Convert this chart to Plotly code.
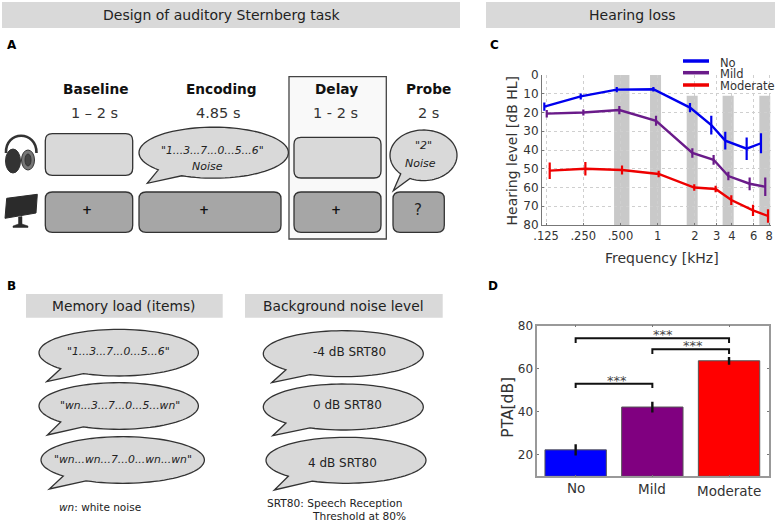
import numpy as np
import plotly.graph_objects as go

W, H = 777, 522

# --- Panel C data (audiogram, x in kHz as plotted, slightly dodged per group) ---
GROUPS = ["No", "Mild", "Moderate"]
GROUP_COLORS = ["#0000ee", "#6a1b8a", "#ee0000"]

no_khz = [0.121, 0.2385, 0.467, 0.924, 1.829, 2.72, 3.53, 5.26, 6.87]
no_db = [16.9, 11.4, 7.8, 7.6, 17.4, 26.7, 35, 39.3, 36.4]
no_err = [2.2, 1.6, 1.4, 1.2, 2.5, 5, 4.7, 6, 5.3]

mild_khz = [0.1266, 0.2505, 0.49, 0.971, 1.911, 2.84, 3.74, 5.56, 7.44]
mild_db = [20.6, 20, 18.7, 24.4, 41.6, 45.2, 53.9, 58, 59.6]
mild_err = [2, 1.6, 2.2, 2.7, 2.5, 2.6, 2.3, 3.4, 5]

mod_khz = [0.1338, 0.2601, 0.515, 1.02, 1.98, 2.95, 3.95, 5.92, 7.83]
mod_db = [51, 50, 50.7, 52.8, 60, 60.8, 66.7, 72.2, 75.2]
mod_err = [4.4, 3.6, 2.4, 1.7, 1.7, 1.7, 2.6, 3, 3.6]

freq_ticks = [0.125, 0.25, 0.5, 1, 2, 3, 4, 6, 8]
freq_labels = [".125", ".250", ".500", "1", "2", "3", "4", "6", "8"]
db_ticks = [0, 10, 20, 30, 40, 50, 60, 70, 80]

band_lo = [0.444, 0.868, 1.72, 3.36, 6.66]
band_hi = [0.591, 1.066, 2.11, 4.13, 8.2]
band_top = [0, 0, 11, 11, 11]

# --- Panel D data ---
pta = [22.3, 42.2, 63.7]
pta_err = [2.6, 2.5, 1.8]
BAR_COLORS = ["#0000ff", "#800080", "#ff0000"]
bracket_from = [0, 1, 0]
bracket_to = [2, 2, 1]
bracket_level = [74.2, 69, 53]
bracket_drop = [72, 66.9, 51]
star_x = [1.14, 1.534, 0.54]

# --- Panels A/B text ---
phases = ["Baseline", "Encoding", "Delay", "Probe"]
durations = ["1 \u2013 2 s", "4.85 s", "1 - 2 s", "2 s"]
load_items = ['"1...3...7...0...5...6"', '"wn...3...7...0...5...wn"', '"wn...wn...7...0...wn...wn"']
noise_items = ["-4 dB SRT80", "0 dB SRT80", "4 dB SRT80"]

FONT = "DejaVu Sans"
TXT = "#222222"


def fx(x):
    return x / W


def fy(y):
    return 1 - y / H


def paper_path(points, close=True):
    s = "M " + " L ".join(f"{fx(x):.5f},{fy(y):.5f}" for x, y in points)
    return s + (" Z" if close else "")


def bubble(cx, cy, rx, ry, base_l, base_r, tip):
    # ellipse outline with a tail on its lower-left side
    t_l = np.pi - np.arcsin(np.sqrt(max(0, 1 - ((base_l - cx) / rx) ** 2)))
    t_r = np.pi - np.arcsin(np.sqrt(max(0, 1 - ((base_r - cx) / rx) ** 2)))
    ts = np.linspace(t_l, t_r + 2 * np.pi, 90)
    pts = [(cx + rx * np.cos(t), cy + ry * np.sin(t)) for t in ts]
    pts.append(tip)
    return paper_path(pts)


def rrect(x0, y0, x1, y1, r=7):
    return (f"M {fx(x0 + r)},{fy(y0)} L {fx(x1 - r)},{fy(y0)} Q {fx(x1)},{fy(y0)} {fx(x1)},{fy(y0 + r)} "
            f"L {fx(x1)},{fy(y1 - r)} Q {fx(x1)},{fy(y1)} {fx(x1 - r)},{fy(y1)} "
            f"L {fx(x0 + r)},{fy(y1)} Q {fx(x0)},{fy(y1)} {fx(x0)},{fy(y1 - r)} "
            f"L {fx(x0)},{fy(y0 + r)} Q {fx(x0)},{fy(y0)} {fx(x0 + r)},{fy(y0)} Z")


shapes = []
annots = []


def add_path(path, fill="rgba(0,0,0,0)", line="#333333", width=1.3):
    shapes.append(dict(type="path", path=path, xref="paper", yref="paper", fillcolor=fill,
                       line=dict(color=line, width=width), layer="above"))


def add_rect(x0, y0, x1, y1, fill):
    shapes.append(dict(type="rect", xref="paper", yref="paper", x0=fx(x0), x1=fx(x1), y0=fy(y0), y1=fy(y1),
                       fillcolor=fill, line=dict(width=0), layer="below"))


def add_text(x, y, text, size=12, color=TXT, anchor="center", angle=0):
    annots.append(dict(x=fx(x), y=fy(y), xref="paper", yref="paper", text=text, showarrow=False,
                       xanchor=anchor, yanchor="middle", textangle=angle, align="left",
                       font=dict(family=FONT, size=size, color=color)))


LIGHT = "#d9d9d9"
DARK = "#a6a6a6"

# --- Section headers ---
add_rect(2, 2, 460, 28, LIGHT)
add_rect(486, 2, 775, 28, LIGHT)
add_text(222, 15, "Design of auditory Sternberg task", 14)
add_text(632, 15, "Hearing loss", 14)
add_text(12, 45, "<b>A</b>", 12, "#000000")
add_text(11, 286, "<b>B</b>", 12, "#000000")
add_text(494, 45, "<b>C</b>", 12, "#000000")
add_text(493, 286, "<b>D</b>", 12, "#000000")

# --- Panel A ---
add_path(paper_path([(289, 76.7), (386.3, 76.7), (386.3, 239), (289, 239)]), "#f9f9f9", "#444444", 1.3)
for x, phase in zip([96.3, 221, 336.7, 428.5], phases):
    add_text(x, 89, f"<b>{phase}</b>", 13.7, "#111111")
for x, dur in zip([94, 218.5, 335.5, 428.5], durations):
    add_text(x, 113.3, dur, 14.5, "#333333")

add_path(rrect(45.3, 133.7, 132.7, 175.3), LIGHT)
add_path(rrect(294, 137.3, 381, 178), LIGHT)
add_path(rrect(45.3, 192, 132.7, 232.3), DARK)
add_path(rrect(139, 192, 281, 232.3), DARK)
add_path(rrect(294, 192, 381, 232.3), DARK)
add_path(rrect(393, 192, 444.3, 232.3), DARK)
for x in [87.3, 204, 335.7]:
    add_text(x, 210.5, "<b>+</b>", 12, "#111111")
add_text(417.7, 210, "?", 15, "#222222")

add_path(bubble(213.7, 152.7, 74.7, 25.5, 158.3, 181.7, (147.3, 183.3)), LIGHT)
add_text(212.5, 150, '<i>"1...3...7...0...5...6"</i>', 10.8)
add_text(207.5, 166, "<i>Noise</i>", 11)
add_path(bubble(423.5, 155.3, 33.5, 25.3, 400.7, 410, (393.3, 190.7)), LIGHT)
add_text(423, 146, '<i>"2"</i>', 11)
add_text(420, 163.3, "<i>Noise</i>", 11)

# headphones and monitor icons
shapes.append(dict(type="path", xref="paper", yref="paper", layer="above", line=dict(color="#333333", width=2.6),
                   path=(f"M {fx(6)},{fy(153)} C {fx(5)},{fy(130)} {fx(37)},{fy(130)} {fx(36.5)},{fy(153)}")))
for cx, cy, rx, ry, fill in [(13, 161, 7.5, 12, "#333333"), (28, 160, 6.5, 10, "#777777"), (28, 160, 3, 6, "#444444")]:
    shapes.append(dict(type="circle", xref="paper", yref="paper", x0=fx(cx - rx), x1=fx(cx + rx), y0=fy(cy - ry),
                       y1=fy(cy + ry), fillcolor=fill, line=dict(color="#333333", width=1), layer="above"))
add_path(paper_path([(6.7, 198.3), (37.3, 194.3), (36, 213), (5, 218.3)]), "#2b2b2b", "#2b2b2b", 1)
add_path(paper_path([(18.5, 217), (22, 216.5), (22, 224), (28, 226), (28, 227.5), (13, 227.5), (13, 226), (18.5, 224)]),
         "#2b2b2b", "#2b2b2b", 0.5)

# --- Panel B ---
add_rect(26, 294, 222.7, 317.7, LIGHT)
add_rect(245, 294, 442.7, 317.7, LIGHT)
add_text(124, 306, "Memory load (items)", 13.8)
add_text(343, 306, "Background noise level", 13.8)

load_geom = [(118.7, 352.7, 79.7, 23.3, 60.7, 83.3, (46.7, 381.7)),
             (118.7, 406, 79.7, 23.3, 60.7, 83.3, (47.3, 435)),
             (122.7, 460, 81.7, 23.3, 63.3, 86, (49.3, 489))]
load_text_at = [(119, 351.5), (119.7, 405), (123, 459)]
for g, (tx, ty), item in zip(load_geom, load_text_at, load_items):
    add_path(bubble(*g), LIGHT)
    add_text(tx, ty, f"<i>{item}</i>", 10.8)
add_text(56.5, 507, "<i>wn</i>: white noise", 10.5, "#222222", anchor="left")

noise_geom = [(343.3, 353.7, 80, 23, 286, 310, (271.7, 382.7)),
              (343.3, 407, 80, 23, 286, 310, (272.7, 435.7)),
              (346, 460.3, 80, 23, 288.3, 312.3, (274.3, 490))]
noise_text_at = [(349.7, 351.7), (347, 405), (342.5, 462.7)]
for g, (tx, ty), item in zip(noise_geom, noise_text_at, noise_items):
    add_path(bubble(*g), LIGHT)
    add_text(tx, ty, item, 12)
add_text(265, 503.3, "SRT80: Speech Reception", 10.6, "#222222", anchor="left")
add_text(310, 515.5, "Threshold at 80%", 10.6, "#222222", anchor="left")

# --- Panel C legend and axis titles ---
for name, color, y in zip(GROUPS, GROUP_COLORS, [61, 72.7, 85]):
    shapes.append(dict(type="line", xref="paper", yref="paper", x0=fx(683), x1=fx(709), y0=fy(y), y1=fy(y),
                       line=dict(color=color, width=3.5), layer="above"))
    add_text(717.5, y + 1.5, name, 11.5, "#333333", anchor="left")
add_text(511, 150.5, "Hearing level [dB HL]", 14, "#333333", angle=-90)
add_text(662, 257.7, "Frequency [kHz]", 14, "#333333")
add_text(508, 406.7, "PTA[dB]", 15.5, "#333333", angle=-90)

# gray bands behind the audiogram
for lo, hi, top in zip(band_lo, band_hi, band_top):
    shapes.append(dict(type="rect", xref="x", yref="y", x0=lo, x1=hi, y0=top, y1=80,
                       fillcolor="#c9c9c9", line=dict(width=0), layer="below"))

fig = go.Figure()

for name, color, xs, ys, errs in zip(GROUPS, GROUP_COLORS, [no_khz, mild_khz, mod_khz], [no_db, mild_db, mod_db],
                                     [no_err, mild_err, mod_err]):
    fig.add_trace(go.Scatter(x=xs, y=ys, name=name, mode="lines", line=dict(color=color, width=2.4),
                             error_y=dict(type="data", array=errs, width=0, thickness=2.2, color=color),
                             showlegend=False, xaxis="x", yaxis="y"))

# --- Panel D traces ---
cat_pos = [0, 1, 2]
fig.add_trace(go.Bar(x=cat_pos, y=[v - 10 for v in pta], base=10, width=0.8, marker=dict(color=BAR_COLORS, line=dict(color="#555555", width=1)),
                     showlegend=False, xaxis="x2", yaxis="y2"))
fig.add_trace(go.Scatter(x=cat_pos, y=pta, mode="markers", marker=dict(size=1, color="rgba(0,0,0,0)"),
                         error_y=dict(type="data", array=pta_err, width=0, thickness=2.4, color="#111111"),
                         showlegend=False, xaxis="x2", yaxis="y2"))
for a, b, lvl, drop, sx in zip(bracket_from, bracket_to, bracket_level, bracket_drop, star_x):
    fig.add_trace(go.Scatter(x=[a, a, b, b], y=[drop, lvl, lvl, drop], mode="lines",
                             line=dict(color="#111111", width=2), showlegend=False, xaxis="x2", yaxis="y2"))
    annots.append(dict(x=sx, y=lvl + 0.6, xref="x2", yref="y2", text="***",
                       showarrow=False, yanchor="bottom", yshift=-7, font=dict(family=FONT, size=13, color="#444444")))

# category labels sit at slightly different heights in the original
for pos, name, y in zip(cat_pos, GROUPS, [487.7, 489, 491]):
    annots.append(dict(x=pos, y=fy(y), xref="x2", yref="paper", text=name, showarrow=False, yanchor="middle",
                       font=dict(family=FONT, size=13.5, color="#333333")))

GRID = dict(showgrid=True, gridcolor="#cfcfcf", griddash="dot", gridwidth=1)
fig.update_layout(
    margin=dict(l=0, r=0, t=0, b=0, autoexpand=False), paper_bgcolor="white", plot_bgcolor="rgba(0,0,0,0)",
    font=dict(family=FONT, color="#333333"), showlegend=False, shapes=shapes, annotations=annots,
    xaxis=dict(domain=[fx(542), fx(770.5)], anchor="y", type="log", range=[-0.936, 0.914], tickmode="array",
               tickvals=freq_ticks, ticktext=freq_labels, ticks="inside", ticklen=2, tickcolor="#777777",
               tickfont=dict(size=11.5), showline=True, linecolor="#777777", linewidth=1, zeroline=False, **GRID),
    yaxis=dict(domain=[fy(225), fy(75)], anchor="x", range=[80, 0], tickmode="array", tickvals=db_ticks,
               ticks="inside", ticklen=2, tickcolor="#777777", tickfont=dict(size=12), showline=True,
               linecolor="#777777", linewidth=1, zeroline=False, **GRID),
    xaxis2=dict(domain=[fx(537.3), fx(768.7)], anchor="y2", range=[-0.5, 2.517], tickmode="array", tickvals=cat_pos,
                ticktext=["", "", ""], ticks="inside", ticklen=2, tickcolor="#777777", showline=True, mirror="ticks",
                linecolor="#999999", linewidth=1.5, showgrid=False, zeroline=False),
    yaxis2=dict(domain=[fy(476.3), fy(325.7)], anchor="x2", range=[10, 80], tickmode="array", tickvals=[20, 40, 60, 80],
                ticks="inside", ticklen=2, tickcolor="#777777", tickfont=dict(size=12), showline=True, mirror="ticks",
                linecolor="#999999", linewidth=1.5, showgrid=False, zeroline=False),
)

# page body margin would shift the figure, so pin the div to the window corner
fig.write_html("out.html", config={"displayModeBar": False}, default_height=f"{H}px",
               default_width=f"{W}px;position:absolute;left:0;top:0")
